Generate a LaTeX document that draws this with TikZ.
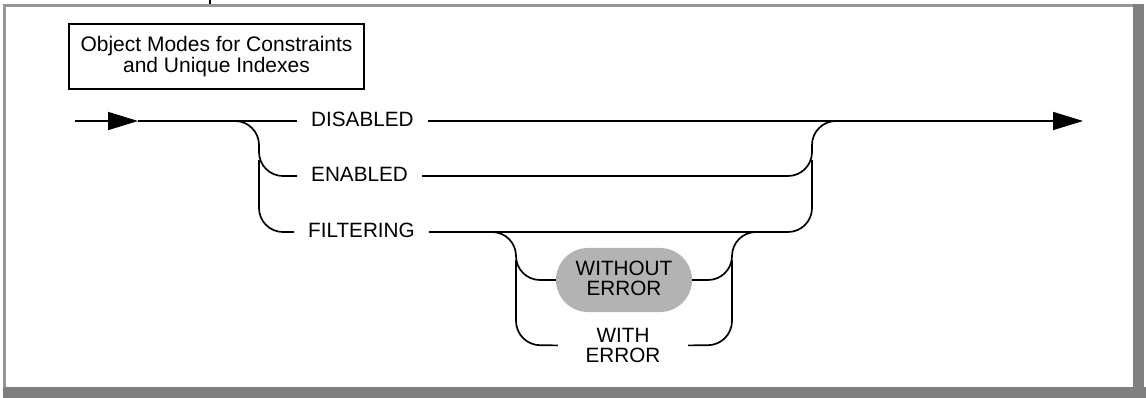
\documentclass[tikz,border=0pt]{standalone}
\usepackage{fontspec}
\setmainfont{Liberation Sans}
\usetikzlibrary{arrows.meta}
\definecolor{bargray}{RGB}{128,128,128}
\definecolor{linegray}{RGB}{150,150,150}
\definecolor{pillgray}{RGB}{179,179,179}
\tikzset{
  conn/.style={line width=1.7pt},
  rc/.style={rounded corners=24pt},
  tip/.style={-{Triangle[length=30pt,width=18pt]}},
  lbl/.style={font=\fontsize{20.7}{20.7}\selectfont, inner xsep=14pt, inner ysep=0pt,
              text height=14.8pt, text depth=3pt, anchor=west},
  lbltwo/.style={font=\fontsize{20.7}{20}\selectfont, align=center, inner sep=0pt},
  pill/.style={fill=pillgray, rounded corners=32pt, minimum width=136pt,
               minimum height=64pt, inner sep=0pt},
  titlebox/.style={draw, line width=2.6pt, minimum width=295pt, minimum height=65pt,
                   inner sep=0pt, align=center, font=\fontsize{21}{21}\selectfont}
}
\begin{document}
\begin{tikzpicture}[x=1pt,y=-1pt]
\useasboundingbox (0,0) rectangle (1146,398);
% frame
\fill[linegray] (3,4) rectangle (1144,7);
\fill[linegray] (3,4) rectangle (5.5,387);
\fill[bargray] (1133,4) rectangle (1144,387);
\fill[bargray] (3,387) rectangle (1146,398);
\draw[line width=1.5pt] (210,0) -- (210,4.5);
% title
\node[titlebox] (title) at (216.5,56.5) {Object Modes for Constraints\\and Unique Indexes};
% labels
\node[lbl] (dis) at (297,121) {DISABLED};
\node[lbl] (en) at (297,176) {ENABLED};
\node[lbl] (fil) at (294,232) {FILTERING};
\node[pill, label={[lbltwo,yshift=2pt]center:{WITHOUT\\ERROR}}] (wo) at (624,280) {};
\node[lbltwo, minimum width=130pt] (with) at (623,345.4) {WITH\\ERROR};
% coordinates
\coordinate (start) at (75,121);
\coordinate (arrowA) at (138,121);
\coordinate (finish) at (1083,121);
% main line
\draw[conn,tip] (start) -- (arrowA);
\draw[conn] (arrowA) -- (dis.west);
\draw[conn,tip] (dis.east) -- (finish);
% left split
\draw[conn,rc] (210,121) -- (259,121) -- (259,176) -- (en.west);
\draw[conn,rc] (259,160) -- (259,232) -- (fil.west);
% right merge
\draw[conn,rc] (en.east) -- (812,176) -- (812,121) -- (860,121);
\draw[conn,rc] (fil.east) -- (812,232) -- (812,160);
% sub-branch
\draw[conn,rc] (470,232) -- (516,232) -- (516,280) -- (wo.west);
\draw[conn,rc] (516,260) -- (516,345) -- (with.west);
\draw[conn,rc] (wo.east) -- (732,280) -- (732,232) -- (780,232);
\draw[conn,rc] (with.east) -- (732,345) -- (732,260);
\end{tikzpicture}
\end{document}
